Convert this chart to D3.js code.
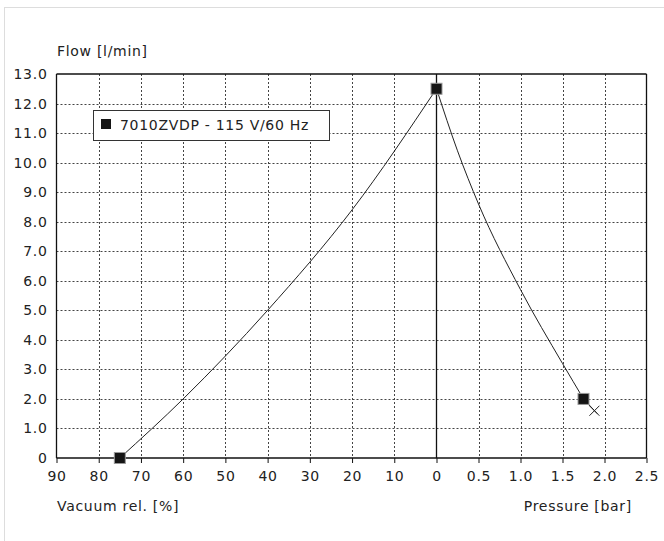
<!DOCTYPE html>
<html><head><meta charset="utf-8">
<script src="https://cdn.jsdelivr.net/npm/d3@7"></script>
<style>body{margin:0;background:#fff}svg{display:block}text{font-family:"DejaVu Sans",sans-serif;fill:#222;letter-spacing:0.7px}</style>
</head><body><svg width="664" height="541"></svg>
<script>
const vacuumTicks = [90,80,70,60,50,40,30,20,10,0];
const pressureTicks = [0.5,1.0,1.5,2.0,2.5];
const flowTicks = [0,1,2,3,4,5,6,7,8,9,10,11,12,13];
const seriesName = "7010ZVDP - 115 V/60 Hz";
const vacX = [75,60,40,20,0];
const vacFlow = [0,2.0,5.0,8.4,12.5];
const presX = [0,0.25,0.5,1.0,1.5,1.75];
const presFlow = [12.5,10.4,8.6,5.7,3.2,2.0];
const markVac = [[75,0],[0,12.5]];
const markPres = [[1.75,2]];
const endX = [1.88,1.6];

const FONT = "'DejaVu Sans',sans-serif", FS = 14;
const svg = d3.select("svg");
const L=56.5, R=646.5, T=74, B=458, Z=436.5;
const xv = d3.scaleLinear().domain([90,0]).range([L,Z]);
const xp = d3.scaleLinear().domain([0,2.5]).range([Z,R]);
const y = d3.scaleLinear().domain([0,13]).range([B,T]);

svg.append("rect").attr("x",4.5).attr("y",7.5).attr("width",800).attr("height",800)
  .attr("fill","none").attr("stroke","#ddd");

const g = svg.append("g");
const grid = g.append("g").attr("stroke","#444").attr("stroke-dasharray","2,2").attr("stroke-width",1);
flowTicks.filter(d=>d>0&&d<13).forEach(d=>grid.append("line").attr("x1",L).attr("x2",R).attr("y1",Math.round(y(d))+0.5).attr("y2",Math.round(y(d))+0.5));
vacuumTicks.filter(d=>d<90&&d>0).forEach(d=>grid.append("line").attr("x1",Math.round(xv(d))+0.5).attr("x2",Math.round(xv(d))+0.5).attr("y1",T).attr("y2",B));
pressureTicks.filter(d=>d<2.5).forEach(d=>grid.append("line").attr("x1",Math.round(xp(d))+0.5).attr("x2",Math.round(xp(d))+0.5).attr("y1",T).attr("y2",B));

const fr = g.append("g").attr("stroke","#111").attr("stroke-width",1.3);
fr.append("line").attr("x1",L).attr("x2",R).attr("y1",T).attr("y2",T);
fr.append("line").attr("x1",L).attr("x2",R).attr("y1",B).attr("y2",B);
fr.append("line").attr("x1",L).attr("x2",L).attr("y1",T).attr("y2",B);
fr.append("line").attr("x1",R).attr("x2",R).attr("y1",T).attr("y2",B);
fr.append("line").attr("x1",Z).attr("x2",Z).attr("y1",T).attr("y2",B);

const axV = d3.axisBottom(xv).tickValues(vacuumTicks).tickSize(5).tickFormat(d3.format("d"));
const axP = d3.axisBottom(xp).tickValues(pressureTicks).tickSize(5).tickFormat(d3.format(".1f"));
[axV,axP].forEach(ax=>{
  const a = g.append("g").attr("transform",`translate(0,${B})`).call(ax);
  a.select(".domain").remove();
  a.selectAll("line").attr("stroke","#111");
  a.selectAll("text").attr("font-size",FS).attr("dy","1.1em").attr("fill","#222").style("font-family",FONT);
});
const ay = g.append("g").attr("transform",`translate(${L},0)`).call(d3.axisLeft(y).tickValues(flowTicks).tickSize(0).tickPadding(9).tickFormat(d=>d===0?"0":d3.format(".1f")(d)));
ay.select(".domain").remove();
ay.selectAll("text").attr("font-size",FS).attr("fill","#222").style("font-family",FONT);

svg.append("text").attr("x",57).attr("y",56).attr("font-size",FS).text("Flow [l/min]");
svg.append("text").attr("x",57).attr("y",511).attr("font-size",FS).text("Vacuum rel. [%]");
svg.append("text").attr("x",632).attr("y",511).attr("font-size",FS).attr("text-anchor","end").text("Pressure [bar]");

const line = d3.line().curve(d3.curveMonotoneX);
const vPts = vacX.map((v,i)=>[xv(v),y(vacFlow[i])]);
const pPts = presX.map((p,i)=>[xp(p),y(presFlow[i])]);
g.append("path").attr("d",line(vPts)).attr("fill","none").attr("stroke","#222").attr("stroke-width",1);
g.append("path").attr("d",line(pPts)).attr("fill","none").attr("stroke","#222").attr("stroke-width",1);
const ex = xp(endX[0]), ey = y(endX[1]);
g.append("line").attr("x1",xp(1.75)).attr("y1",y(2)).attr("x2",ex+3).attr("y2",ey+3).attr("stroke","#222");
g.append("path").attr("d",`M${ex-5},${ey-5}L${ex+5},${ey+5}M${ex-5},${ey+5}L${ex+5},${ey-5}`).attr("stroke","#222").attr("stroke-width",1);

const ms = 11;
const markers = markVac.map(d=>[xv(d[0]),y(d[1])]).concat(markPres.map(d=>[xp(d[0]),y(d[1])]));
g.selectAll("rect.m").data(markers).enter().append("rect").attr("class","m")
  .attr("x",d=>d[0]-ms/2).attr("y",d=>d[1]-ms/2).attr("width",ms).attr("height",ms)
  .attr("fill","#151515").attr("stroke","#999").attr("stroke-width",1);

const lg = svg.append("g");
lg.append("rect").attr("x",93.5).attr("y",110.5).attr("width",236).attr("height",30).attr("fill","#fff").attr("stroke","#333");
lg.append("rect").attr("x",101).attr("y",119).attr("width",10).attr("height",10).attr("fill","#151515");
lg.append("text").attr("x",120).attr("y",130).attr("font-size",FS).text(seriesName);
</script></body></html>
